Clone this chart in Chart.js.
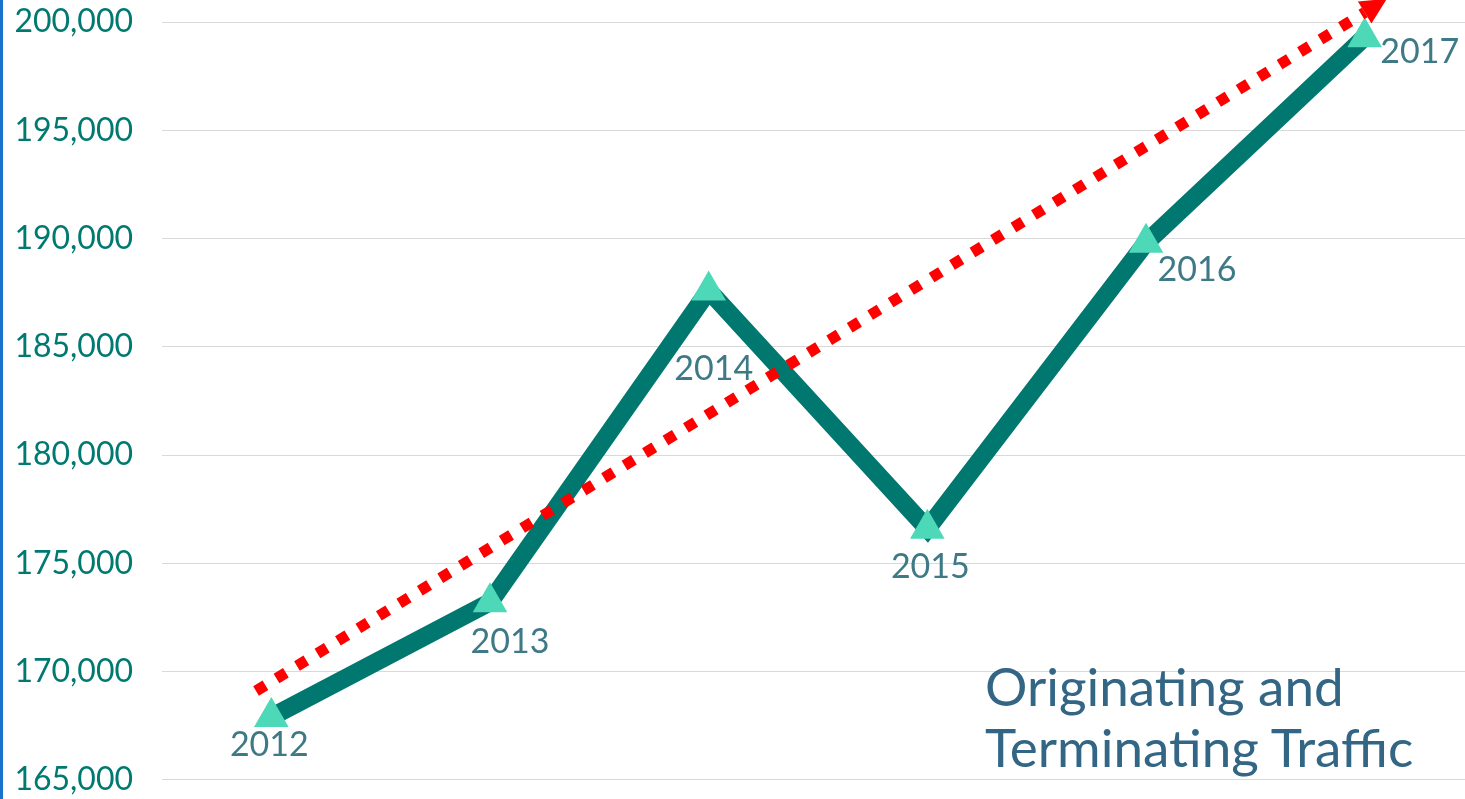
<!DOCTYPE html>
<html lang="en">
<head>
  <meta charset="UTF-8">
  <title>Originating and Terminating Traffic</title>
  <script src="https://cdn.jsdelivr.net/npm/chart.js"></script>
  <style>
    html, body { margin: 0; padding: 0; background: #fff; overflow: hidden; width: 1465px; height: 799px; }
    .edge { position: absolute; left: 0; top: 0; width: 3px; height: 799px; background: #1a73cc; }
    #trafficChart { position: absolute; left: 3px; top: 0; }
    .title { position: absolute; left: 985px; top: 655px; font: 53px Lato, sans-serif; line-height: 61px; color: #336685; white-space: nowrap; }
  </style>
</head>
<body>
  <div class="edge"></div>
  <canvas id="trafficChart" width="1471" height="799"></canvas>
  <div class="title">Originating and<br>Terminating Traffic</div>

<script>
  const years = ['2012', '2013', '2014', '2015', '2016', '2017'];
  const traffic = [167900, 173200, 187600, 176600, 189800, 199300];
  // red trend arrow (start and end)
  const trendYears = [2011.93, 2017.0];
  const trendValues = [169100, 200440];
  const yMin = 165000, yMax = 200000, yStep = 5000;

  // label offsets from each point (px)
  const labelOffsets = [[-2, 28], [20, 40], [5, 79], [3, 38], [51, 27], [55, 15]];

  const extras = {
    id: 'extras',
    afterDatasetsDraw(chart) {
      const ctx = chart.ctx;
      // arrow head at the end of the trend line
      const tm = chart.getDatasetMeta(0).data;
      const p0 = tm[0], p1 = tm[tm.length - 1];
      const dx = p1.x - p0.x, dy = p1.y - p0.y;
      const len = Math.hypot(dx, dy);
      const ux = dx / len, uy = dy / len, nx = -uy, ny = ux;
      ctx.save();
      ctx.fillStyle = '#ff0000';
      ctx.beginPath();
      ctx.moveTo(p1.x + ux * 26, p1.y + uy * 26);
      ctx.lineTo(p1.x + nx * 13, p1.y + ny * 13);
      ctx.lineTo(p1.x - nx * 13, p1.y - ny * 13);
      ctx.closePath();
      ctx.fill();

      // year labels under the points
      const pts = chart.getDatasetMeta(1).data;
      ctx.font = '34px Lato, sans-serif';
      ctx.fillStyle = '#3e7a86';
      ctx.textAlign = 'center';
      ctx.textBaseline = 'middle';
      pts.forEach((p, i) => {
        ctx.fillText(years[i], p.x + labelOffsets[i][0], p.y + labelOffsets[i][1]);
      });
      ctx.restore();
    }
  };

  new Chart(document.getElementById('trafficChart'), {
    type: 'line',
    data: {
      labels: years,
      datasets: [{
        label: 'Trend',
        data: trendYears.map((x, i) => ({ x, y: trendValues[i] })),
        xAxisID: 'x2',
        borderColor: '#ff0000',
        borderWidth: 11,
        borderDash: [11, 13],
        borderCapStyle: 'butt',
        pointRadius: 0,
        clip: false,
        order: 0
      }, {
        label: 'Originating and Terminating Traffic',
        data: traffic,
        xAxisID: 'x',
        borderColor: '#00776f',
        borderWidth: 18,
        borderJoinStyle: 'miter',
        borderCapStyle: 'round',
        tension: 0,
        pointStyle: 'triangle',
        pointRadius: 20,
        pointBackgroundColor: '#4dd8b8',
        pointBorderWidth: 0,
        clip: false,
        order: 1
      }]
    },
    options: {
      responsive: false,
      animation: false,
      layout: { autoPadding: false, padding: { top: 22, bottom: 18, left: 0, right: 0 } },
      scales: {
        x: {
          type: 'category',
          offset: true,
          display: false
        },
        x2: {
          type: 'linear',
          min: 2011.5,
          max: 2017.5,
          display: false
        },
        y: {
          min: yMin,
          max: yMax,
          afterFit(scale) { scale.width = 159; },
          ticks: {
            stepSize: yStep,
            padding: 0,
            color: '#007a70',
            font: { family: 'Lato', size: 32 },
            callback: v => v.toLocaleString('en-US')
          },
          grid: { color: '#d9d9d9', drawTicks: true, tickLength: 29, tickColor: 'rgba(0,0,0,0)' },
          border: { display: false }
        }
      },
      plugins: {
        legend: { display: false },
        tooltip: { enabled: false }
      }
    },
    plugins: [extras]
  });
</script>
</body>
</html>
